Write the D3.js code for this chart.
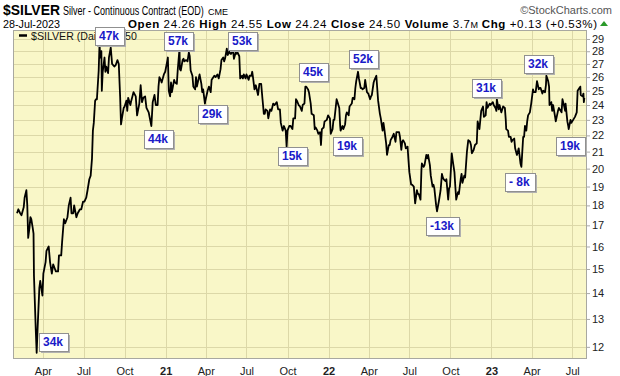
<!DOCTYPE html>
<html><head><meta charset="utf-8">
<script src="https://cdn.jsdelivr.net/npm/d3@7"></script>
<style>
html,body{margin:0;padding:0;background:#fff;}
svg{display:block;}
text{font-family:"Liberation Sans",Arial,sans-serif;}
</style></head><body>
<svg id="c" width="620" height="376"></svg>
<script>
// ---- data ----
const dates = [
"2020-02-03","2020-02-06","2020-02-10","2020-02-13","2020-02-18","2020-02-20","2020-02-24","2020-02-26","2020-02-28","2020-03-02","2020-03-04","2020-03-06","2020-03-09","2020-03-11","2020-03-12","2020-03-16","2020-03-18","2020-03-20","2020-03-24","2020-03-26","2020-03-31","2020-04-02","2020-04-07","2020-04-09","2020-04-14","2020-04-17","2020-04-21","2020-04-24","2020-04-28","2020-04-30","2020-05-05","2020-05-07","2020-05-12","2020-05-14","2020-05-18","2020-05-21","2020-05-26","2020-05-29","2020-06-02","2020-06-04","2020-06-08","2020-06-10","2020-06-15","2020-06-18","2020-06-23","2020-06-26","2020-06-30","2020-07-03","2020-07-07","2020-07-10","2020-07-14","2020-07-17","2020-07-20","2020-07-22","2020-07-24","2020-07-27","2020-07-29","2020-07-31","2020-08-04","2020-08-06","2020-08-07","2020-08-10","2020-08-11","2020-08-13","2020-08-17","2020-08-19","2020-08-21","2020-08-25","2020-08-27","2020-08-31","2020-09-03","2020-09-08","2020-09-11","2020-09-15","2020-09-18","2020-09-21","2020-09-23","2020-09-25","2020-09-29","2020-10-01","2020-10-05","2020-10-07","2020-10-09","2020-10-14","2020-10-16","2020-10-21","2020-10-26","2020-10-29","2020-11-03","2020-11-06","2020-11-09","2020-11-12","2020-11-16","2020-11-19","2020-11-24","2020-11-30","2020-12-03","2020-12-07","2020-12-10","2020-12-14","2020-12-16","2020-12-18","2020-12-21","2020-12-23","2020-12-28","2020-12-31",
"2021-01-05","2021-01-06","2021-01-08","2021-01-11","2021-01-13","2021-01-15","2021-01-20","2021-01-22","2021-01-26","2021-01-28","2021-02-01","2021-02-02","2021-02-04","2021-02-08","2021-02-10","2021-02-12","2021-02-16","2021-02-19","2021-02-22","2021-02-24","2021-02-26","2021-03-02","2021-03-04","2021-03-08","2021-03-10","2021-03-12","2021-03-16","2021-03-18","2021-03-22","2021-03-24","2021-03-26","2021-03-30","2021-03-31","2021-04-05","2021-04-08","2021-04-12","2021-04-14","2021-04-16","2021-04-20","2021-04-23","2021-04-27","2021-04-30","2021-05-04","2021-05-06","2021-05-10","2021-05-12","2021-05-14","2021-05-18","2021-05-20","2021-05-24","2021-05-26","2021-05-28","2021-06-01","2021-06-03","2021-06-07","2021-06-09","2021-06-11","2021-06-15","2021-06-17","2021-06-21","2021-06-23","2021-06-25","2021-06-29","2021-07-01","2021-07-06","2021-07-08","2021-07-12","2021-07-14","2021-07-16","2021-07-19","2021-07-22","2021-07-27","2021-07-30","2021-08-03","2021-08-06","2021-08-09","2021-08-11","2021-08-13","2021-08-17","2021-08-19","2021-08-23","2021-08-26","2021-08-30","2021-09-02","2021-09-07","2021-09-10","2021-09-14","2021-09-16","2021-09-20","2021-09-23","2021-09-27","2021-09-29","2021-10-01","2021-10-05","2021-10-08","2021-10-12","2021-10-14","2021-10-18","2021-10-20","2021-10-22","2021-10-26","2021-10-29","2021-11-02","2021-11-04","2021-11-08","2021-11-10","2021-11-12","2021-11-16","2021-11-18","2021-11-22","2021-11-24","2021-11-29","2021-12-01","2021-12-03","2021-12-07","2021-12-09","2021-12-13","2021-12-15","2021-12-17","2021-12-21","2021-12-23","2021-12-28","2021-12-31",
"2022-01-04","2022-01-06","2022-01-10","2022-01-12","2022-01-14","2022-01-19","2022-01-21","2022-01-25","2022-01-27","2022-01-28","2022-02-01","2022-02-03","2022-02-07","2022-02-09","2022-02-11","2022-02-15","2022-02-17","2022-02-22","2022-02-24","2022-02-28","2022-03-02","2022-03-04","2022-03-08","2022-03-10","2022-03-14","2022-03-16","2022-03-18","2022-03-22","2022-03-24","2022-03-28","2022-03-31","2022-04-04","2022-04-06","2022-04-08","2022-04-12","2022-04-14","2022-04-18","2022-04-20","2022-04-22","2022-04-26","2022-04-28","2022-05-02","2022-05-04","2022-05-06","2022-05-10","2022-05-12","2022-05-16","2022-05-18","2022-05-20","2022-05-24","2022-05-27","2022-05-31","2022-06-02","2022-06-06","2022-06-08","2022-06-10","2022-06-13","2022-06-15","2022-06-17","2022-06-21","2022-06-23","2022-06-27","2022-06-29","2022-07-01","2022-07-05","2022-07-07","2022-07-11","2022-07-14","2022-07-18","2022-07-20","2022-07-22","2022-07-26","2022-07-28","2022-07-29","2022-08-02","2022-08-04","2022-08-08","2022-08-10","2022-08-12","2022-08-16","2022-08-18","2022-08-22","2022-08-24","2022-08-26","2022-08-30","2022-09-01","2022-09-05","2022-09-07","2022-09-09","2022-09-12","2022-09-14","2022-09-16","2022-09-20","2022-09-22","2022-09-26","2022-09-28","2022-09-30","2022-10-04","2022-10-06","2022-10-10","2022-10-12","2022-10-14","2022-10-18","2022-10-20","2022-10-24","2022-10-26","2022-10-28","2022-11-01","2022-11-03","2022-11-07","2022-11-10","2022-11-14","2022-11-16","2022-11-18","2022-11-22","2022-11-25","2022-11-29","2022-12-01","2022-12-05","2022-12-07","2022-12-09","2022-12-13","2022-12-15","2022-12-19","2022-12-21","2022-12-23","2022-12-28","2022-12-30",
"2023-01-04","2023-01-06","2023-01-10","2023-01-12","2023-01-13","2023-01-17","2023-01-19","2023-01-23","2023-01-25","2023-01-27","2023-01-31","2023-02-02","2023-02-03","2023-02-07","2023-02-09","2023-02-13","2023-02-15","2023-02-17","2023-02-21","2023-02-23","2023-02-27","2023-03-01","2023-03-03","2023-03-07","2023-03-09","2023-03-13","2023-03-15","2023-03-17","2023-03-20","2023-03-22","2023-03-24","2023-03-28","2023-03-31","2023-04-04","2023-04-06","2023-04-10","2023-04-13","2023-04-17","2023-04-19","2023-04-21","2023-04-25","2023-04-27","2023-05-01","2023-05-03","2023-05-04","2023-05-08","2023-05-10","2023-05-11","2023-05-15","2023-05-17","2023-05-19","2023-05-23","2023-05-25","2023-05-30","2023-06-01","2023-06-05","2023-06-07","2023-06-09","2023-06-13","2023-06-15","2023-06-16","2023-06-20","2023-06-22","2023-06-23","2023-06-27","2023-06-29","2023-07-03","2023-07-05","2023-07-07","2023-07-11","2023-07-13","2023-07-17","2023-07-19","2023-07-20","2023-07-24","2023-07-26","2023-07-27","2023-07-28"
];
const closes = [
17.6,17.8,17.6,17.5,17.9,18.4,18.8,18.0,16.4,16.9,17.4,17.3,16.9,16.6,14.7,12.6,11.8,12.6,14.2,14.5,13.9,14.8,15.3,15.8,16.0,15.3,14.8,15.2,15.0,14.9,14.9,15.6,15.6,16.2,17.3,17.1,17.4,18.0,18.4,17.6,17.6,18.0,17.4,17.6,17.8,17.8,18.2,18.2,18.4,18.8,19.4,19.6,20.6,22.3,22.8,24.3,24.4,24.4,26.5,28.8,27.5,28.0,25.0,26.4,27.5,26.4,26.8,26.3,27.5,28.3,27.0,26.8,26.9,27.3,27.0,24.6,22.7,23.1,23.8,23.9,24.3,23.6,24.5,24.0,24.3,24.9,24.6,23.3,24.1,25.4,24.2,24.5,24.6,23.8,23.5,22.6,24.2,24.7,24.0,24.0,25.3,26.0,25.8,25.6,26.2,26.4,
27.3,27.5,25.0,24.6,25.6,24.9,25.8,25.6,25.5,26.5,28.2,26.6,26.5,27.3,27.4,27.2,27.3,27.2,27.9,27.6,26.5,26.1,25.3,25.1,26.0,25.3,25.9,26.2,25.5,24.9,25.1,24.1,24.3,25.0,25.3,24.9,25.8,25.9,26.1,26.0,26.2,25.9,26.6,27.3,27.5,27.2,27.4,28.2,27.7,28.0,27.8,27.8,28.1,27.4,27.9,27.8,27.9,27.6,25.9,26.1,25.9,26.2,25.9,26.2,25.8,26.1,26.1,26.4,25.9,25.1,25.4,24.7,25.5,25.5,24.4,23.4,23.4,23.7,23.6,23.1,23.7,23.6,24.1,24.0,24.2,23.7,23.7,22.8,22.3,22.6,22.3,21.3,22.3,22.6,22.6,22.4,23.1,23.1,24.4,24.3,24.0,23.9,23.6,24.0,24.1,25.3,25.3,25.1,24.9,24.1,23.4,23.3,22.4,22.5,22.3,22.1,22.2,21.4,22.4,22.5,22.9,23.0,23.3,
23.1,22.1,22.4,23.0,23.0,24.4,24.2,23.8,22.6,22.3,22.6,22.4,22.7,23.3,23.5,23.3,23.9,24.1,24.5,24.4,25.2,25.7,26.4,25.9,25.2,25.2,25.1,25.2,25.8,24.9,24.8,24.4,24.6,24.7,25.6,25.8,26.1,25.2,24.3,23.4,23.1,22.3,22.8,22.4,21.5,20.8,21.4,21.4,21.7,21.9,22.1,21.6,22.2,22.2,22.2,21.9,21.1,21.6,21.7,21.5,21.2,21.3,20.5,19.8,19.1,19.1,19.0,18.1,18.8,18.6,18.6,18.3,19.9,20.3,20.1,20.2,20.8,20.6,20.8,20.2,19.6,19.0,19.1,18.9,18.0,17.7,18.2,18.5,18.8,19.7,19.5,19.4,19.3,19.4,18.3,18.9,19.0,20.9,20.5,19.8,19.0,18.3,18.7,18.6,19.4,19.7,19.2,19.6,19.5,21.0,21.7,21.6,21.4,20.9,21.1,21.4,21.5,22.9,22.4,23.0,23.6,23.9,23.2,23.3,24.2,23.8,24.1,24.0,
24.2,24.0,23.8,23.6,24.4,23.7,24.0,23.5,23.7,23.9,23.8,23.0,22.4,22.3,21.9,21.9,21.6,21.7,21.8,21.2,20.8,21.0,21.2,20.3,20.1,21.9,21.9,22.6,22.3,22.9,23.3,23.5,24.1,25.1,24.9,24.9,25.7,25.1,25.2,25.2,24.8,25.0,24.9,25.4,26.1,25.7,25.3,24.0,24.2,23.6,24.0,23.3,22.9,23.6,23.8,23.6,23.5,24.4,23.9,23.6,24.1,22.9,22.6,22.4,23.0,22.8,23.0,23.1,23.2,23.5,25.0,25.2,25.3,24.7,24.6,24.8,24.2,24.5
];
const yTicks = [12,13,14,15,16,17,18,19,20,21,22,23,24,25,26,27,28,29];
const xTickDates = ["2020-04-01","2020-07-01","2020-10-01","2021-01-01","2021-04-01","2021-07-01","2021-10-01","2022-01-01","2022-04-01","2022-07-01","2022-10-01","2023-01-01","2023-04-01","2023-07-01"];
const xTickLabels = ["Apr","Jul","Oct","21","Apr","Jul","Oct","22","Apr","Jul","Oct","23","Apr","Jul"];
// annotation boxes: text and the date/price of the box's upper-left corner
const noteTexts  = ["34k","47k","44k","57k","29k","53k","15k","45k","19k","52k","-13k","31k","- 8k","32k","19k"];
const noteDates  = ["2020-03-23","2020-07-27","2020-11-13","2020-12-28","2021-03-14","2021-05-21","2021-09-10","2021-10-26","2022-01-11","2022-02-15","2022-08-07","2022-11-18","2023-01-31","2023-03-15","2023-05-25"];
const notePrices = [12.49,30.05,22.34,29.59,24.0,29.59,21.29,27.07,21.9,28.1,17.4,25.86,19.75,27.7,21.9];

// ---- drawing ----
const parse = d3.timeParse("%Y-%m-%d");
const svg = d3.select("#c");
const L = 13, R = 587, T = 30, B = 359;

const x = d3.scaleTime().domain([parse("2020-01-25"), parse("2023-08-03")]).range([L, R]);
const y = d3.scaleLog().domain([11.59, 29.757]).range([B, T]);

svg.append("rect").attr("x",0).attr("y",0).attr("width",620).attr("height",376).attr("fill","#fff");

// header: condensed texts squeezed horizontally with a transform
function squeezed(px, py, txt, size, weight, width) {
  const g = svg.append("g");
  const t = g.append("text").attr("x",0).attr("y",0).attr("font-size",size).attr("font-weight",weight).text(txt);
  const w = t.node().getComputedTextLength();
  g.attr("transform",`translate(${px},${py}) scale(${width/w},1)`);
  return t;
}
squeezed(3, 15, "$SILVER", 15, "bold", 57);
squeezed(63, 14.5, "Silver - Continuous Contract (EOD)", 12, "normal", 141);
svg.append("text").attr("x",208).attr("y",14.5).attr("font-size",9).text("CME");
svg.append("text").attr("x",612).attr("y",14).attr("font-size",11).attr("text-anchor","end").attr("fill","#555").text("\u00A9StockCharts.com");

squeezed(3, 28, "28-Jul-2023", 11, "normal", 57);
const parts = [["Open",1],[" 24.26 ",0],["High",1],[" 24.55 ",0],["Low",1],[" 24.24 ",0],["Close",1],[" 24.50 ",0],["Volume",1],[" 3.7",0],["M ",2],["Chg",1],[" +0.13 (+0.53%)",0]];
const h2 = svg.append("text").attr("x",128).attr("y",28).attr("font-size",11.5)
  .attr("textLength",469).attr("lengthAdjust","spacing").style("white-space","pre");
parts.forEach(p => {
  const t = h2.append("tspan").text(p[0]);
  if (p[1]===1) t.attr("font-weight","bold");
  if (p[1]===2) t.attr("font-size",9);
});
svg.append("path").attr("d","M600,26 L604,21 L608,26 Z").attr("fill","#2a9a2a");

// plot background
svg.append("rect").attr("x",L).attr("y",T).attr("width",R-L).attr("height",B-T).attr("fill","#f9f7c8");

// grid
svg.append("g").selectAll("line").data(yTicks).join("line")
  .attr("x1",L).attr("x2",R).attr("y1",d=>Math.round(y(d))+0.5).attr("y2",d=>Math.round(y(d))+0.5)
  .attr("stroke","#dcd8a8").attr("stroke-width",1);
svg.append("g").selectAll("line").data(xTickDates).join("line")
  .attr("x1",d=>Math.round(x(parse(d)))+0.5).attr("x2",d=>Math.round(x(parse(d)))+0.5).attr("y1",T).attr("y2",B)
  .attr("stroke","#dcd8a8").attr("stroke-width",1);

// border
svg.append("rect").attr("x",L+0.5).attr("y",T+0.5).attr("width",R-L-1).attr("height",B-T-1).attr("fill","none").attr("stroke","#a8a8a0");

// y axis (right)
const yAxis = d3.axisRight(y).tickValues(yTicks).tickFormat(d3.format("d")).tickSize(3).tickPadding(2);
const ga = svg.append("g").attr("transform",`translate(${R},0)`).call(yAxis);
ga.select(".domain").remove();
ga.selectAll(".tick line").attr("stroke","#aaa");
ga.selectAll("text").attr("font-size",11).attr("fill","#222").attr("font-family","Liberation Sans, Arial, sans-serif");

// x axis labels
const xAxis = d3.axisBottom(x).tickValues(xTickDates.map(parse)).tickFormat((d,i)=>xTickLabels[i]).tickSize(0).tickPadding(8);
const gx = svg.append("g").attr("transform",`translate(0,${B})`).call(xAxis);
gx.select(".domain").remove();
gx.selectAll("text").attr("font-size",11).attr("fill","#222").attr("font-family","Liberation Sans, Arial, sans-serif")
  .attr("font-weight",(d,i)=>/^\d/.test(xTickLabels[i])?"bold":"normal");

// legend
svg.append("line").attr("x1",19).attr("x2",27).attr("y1",35.5).attr("y2",35.5).attr("stroke","#000").attr("stroke-width",2.5);
svg.append("text").attr("x",31).attr("y",39.5).attr("font-size",10.6).attr("font-family","DejaVu Sans Mono, monospace").attr("fill","#111")
  .text("$SILVER (Daily) 24.50");

// price line
const series = dates.map((d,i)=>({d:parse(d), v:closes[i]}));
svg.append("path").datum(series)
  .attr("d", d3.line().x(d=>x(d.d)).y(d=>y(d.v)))
  .attr("fill","none").attr("stroke","#000").attr("stroke-width",1.8).attr("stroke-linejoin","round");

// annotation boxes
const ng = svg.append("g");
noteTexts.forEach((t,i)=>{
  const bx = Math.round(x(parse(noteDates[i]))), by = Math.round(y(notePrices[i]));
  const g = ng.append("g");
  const tx = g.append("text").attr("x",bx+4).attr("y",by+13).attr("font-size",12).attr("font-weight","bold").attr("fill","#1a1ac8").text(t);
  const w = Math.round(tx.node().getComputedTextLength()) + 9;
  g.insert("rect","text").attr("x",bx+2).attr("y",by+2).attr("width",w).attr("height",18).attr("fill","#b0b0b0");
  g.insert("rect","text").attr("x",bx+0.5).attr("y",by+0.5).attr("width",w).attr("height",18).attr("fill","#fff").attr("stroke","#909090");
});
</script>
</body></html>
